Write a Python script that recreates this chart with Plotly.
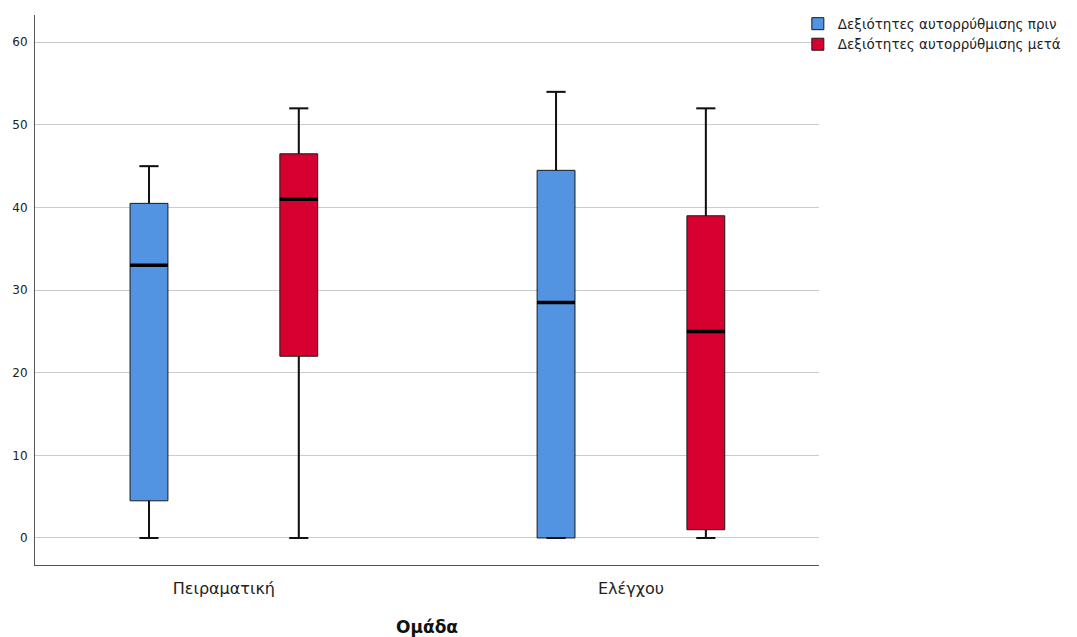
import plotly.graph_objects as go

groups = ["Πειραματική", "Ελέγχου"]
series_names = ["Δεξιότητες αυτορρύθμισης πριν", "Δεξιότητες αυτορρύθμισης μετά"]
colors = ["#5294E2", "#D5002F"]

before_min = [0, 0]
before_q1 = [4.5, 0]
before_med = [33, 28.5]
before_q3 = [40.5, 44.5]
before_max = [45, 54]

after_min = [0, 0]
after_q1 = [22, 1]
after_med = [41, 25]
after_q3 = [46.5, 39]
after_max = [52, 52]

y_ticks = [0, 10, 20, 30, 40, 50, 60]

stats = [
    (before_min, before_q1, before_med, before_q3, before_max),
    (after_min, after_q1, after_med, after_q3, after_max),
]
offsets = [-0.184, 0.184]
box_w = 0.093
cap_hw = box_w / 4

FONT = "DejaVu Sans, Verdana, sans-serif"

fig = go.Figure()
for si, (mn, q1, md, q3, mx) in enumerate(stats):
    xs = [g + offsets[si] for g in range(len(groups))]
    fig.add_trace(go.Box(
        x=xs, q1=q1, median=md, q3=q3, lowerfence=mn, upperfence=mx,
        width=box_w, fillcolor=colors[si], whiskerwidth=0.5,
        line=dict(color="#1a1a1a", width=1), showlegend=False, hoverinfo="skip",
    ))
    wx, wy = [], []
    for i, x in enumerate(xs):
        wx += [x, x, None, x - cap_hw, x + cap_hw, None, x, x, None, x - cap_hw, x + cap_hw, None]
        wy += [q3[i], mx[i], None, mx[i], mx[i], None, q1[i], mn[i], None, mn[i], mn[i], None]
    fig.add_trace(go.Scatter(x=wx, y=wy, mode="lines", line=dict(color="#111111", width=2),
                             showlegend=False, hoverinfo="skip"))
    mxs, mys = [], []
    for i, x in enumerate(xs):
        mxs += [x - box_w / 2, x + box_w / 2, None]
        mys += [md[i], md[i], None]
    fig.add_trace(go.Scatter(x=mxs, y=mys, mode="lines", line=dict(color="#000000", width=3.5),
                             showlegend=False, hoverinfo="skip"))

for si in range(2):
    fig.add_trace(go.Bar(x=[None], y=[None], name=series_names[si],
                         marker=dict(color=colors[si], line=dict(color="#1a1a1a", width=1))))

fig.update_layout(
    width=1069, height=629,
    margin=dict(l=27, r=258, t=7, b=72, autoexpand=False),
    paper_bgcolor="white", plot_bgcolor="white",
    font=dict(family=FONT, color="#222222", size=12),
    legend=dict(x=0.973, y=1.012, xanchor="left", yanchor="top",
                font=dict(family=FONT, size=13.5, color="#222222"), tracegroupgap=0,
                bgcolor="rgba(0,0,0,0)"),
    showlegend=True,
)
fig.update_xaxes(
    range=[-0.464, 1.462], tickvals=list(range(len(groups))), ticktext=groups,
    showgrid=False, zeroline=False, showline=True, linecolor="#555555", linewidth=1,
    ticks="", tickfont=dict(family=FONT, size=16, color="#222222"), ticklabelstandoff=9,
    title=dict(text="<b>Ομάδα</b>", font=dict(family=FONT, size=17, color="#111111"), standoff=25),
)
fig.update_yaxes(
    range=[-3.27, 63.3], tickvals=y_ticks, showgrid=True, gridcolor="#cccccc", gridwidth=1.2,
    zeroline=False, showline=True, linecolor="#555555", linewidth=1, ticks="",
    tickfont=dict(family=FONT, size=12, color="#222222"), ticklabelstandoff=4,
)

fig.write_html("out.html")
